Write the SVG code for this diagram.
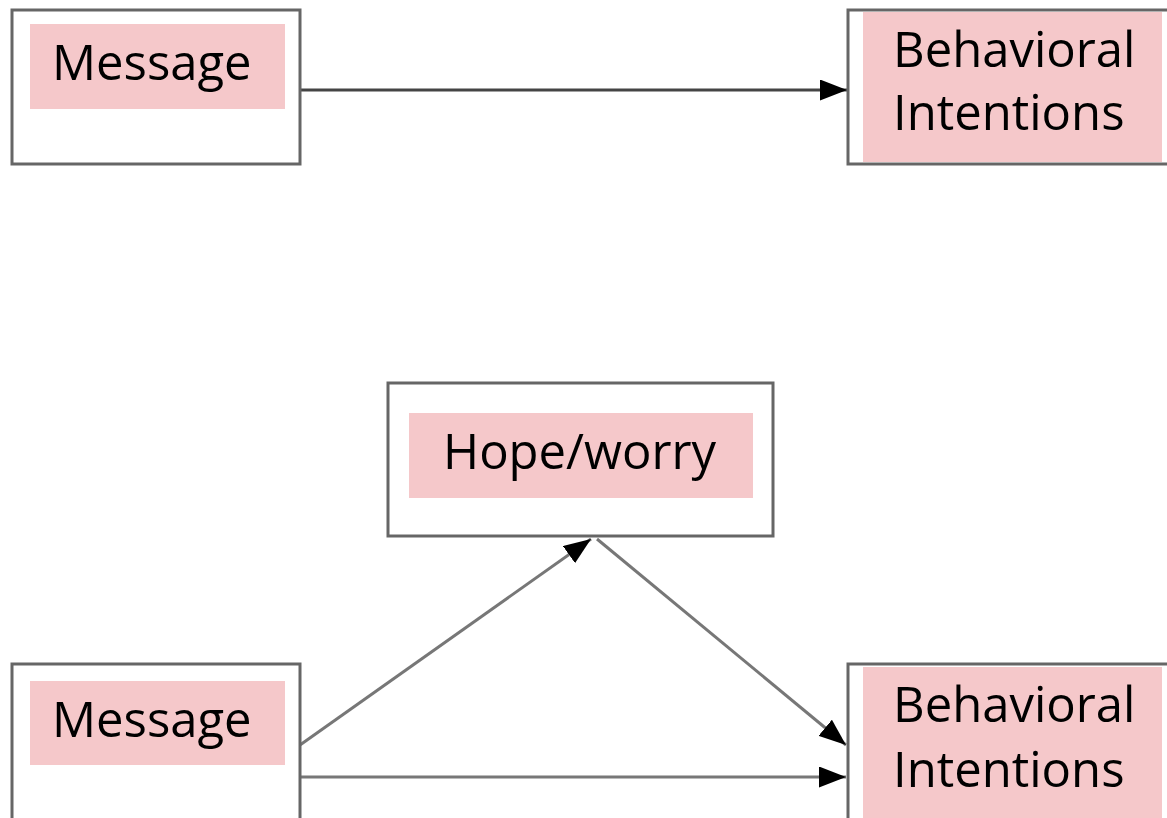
<svg xmlns="http://www.w3.org/2000/svg" width="1167" height="818" viewBox="0 0 1167 818">
<style>
.box{fill:#fff;stroke:#666;stroke-width:3}
.hl{fill:#f5c8ca}
.t{font-family:"Open Sans","Noto Sans",sans-serif;font-size:49px;fill:#000}
.c{stroke:#444;stroke-width:3;fill:none}
.c2{stroke:#777;stroke-width:3;fill:none}
</style>
<defs>
<marker id="ah" markerWidth="9" markerHeight="7" refX="9" refY="3.5" orient="auto" markerUnits="strokeWidth">
<path d="M0,0 L9,3.5 L0,7 Z" fill="#000"/>
</marker>
</defs>
<rect width="1167" height="818" fill="#fff"/>
<g id="connectors">
<line class="c" x1="300" y1="90" x2="847" y2="90" marker-end="url(#ah)"/>
<line class="c2" x1="300" y1="745" x2="591" y2="539" marker-end="url(#ah)"/>
<line class="c2" x1="597" y1="539" x2="846" y2="745" marker-end="url(#ah)"/>
<line class="c2" x1="300" y1="777" x2="846" y2="777" marker-end="url(#ah)"/>
</g>
<g id="message1">
<rect class="box" x="12" y="10" width="288" height="154"/>
<rect class="hl" x="30" y="24" width="255" height="85"/>
<text class="t" x="52" y="80">Message</text>
</g>
<g id="intentions1">
<rect class="box" x="848" y="10" width="330" height="154"/>
<rect class="hl" x="863" y="12" width="299" height="150"/>
<text class="t" x="893" y="67">Behavioral</text>
<text class="t" x="893" y="130">Intentions</text>
</g>
<g id="hope">
<rect class="box" x="388" y="383" width="385" height="153"/>
<rect class="hl" x="409" y="413" width="344" height="85"/>
<text class="t" x="443" y="469">Hope/worry</text>
</g>
<g id="message2">
<rect class="box" x="12" y="664" width="288" height="170"/>
<rect class="hl" x="30" y="681" width="255" height="84"/>
<text class="t" x="52" y="737">Message</text>
</g>
<g id="intentions2">
<rect class="box" x="848" y="664" width="330" height="170"/>
<rect class="hl" x="863" y="667" width="299" height="151"/>
<text class="t" x="893" y="722">Behavioral</text>
<text class="t" x="893" y="787">Intentions</text>
</g>
</svg>
